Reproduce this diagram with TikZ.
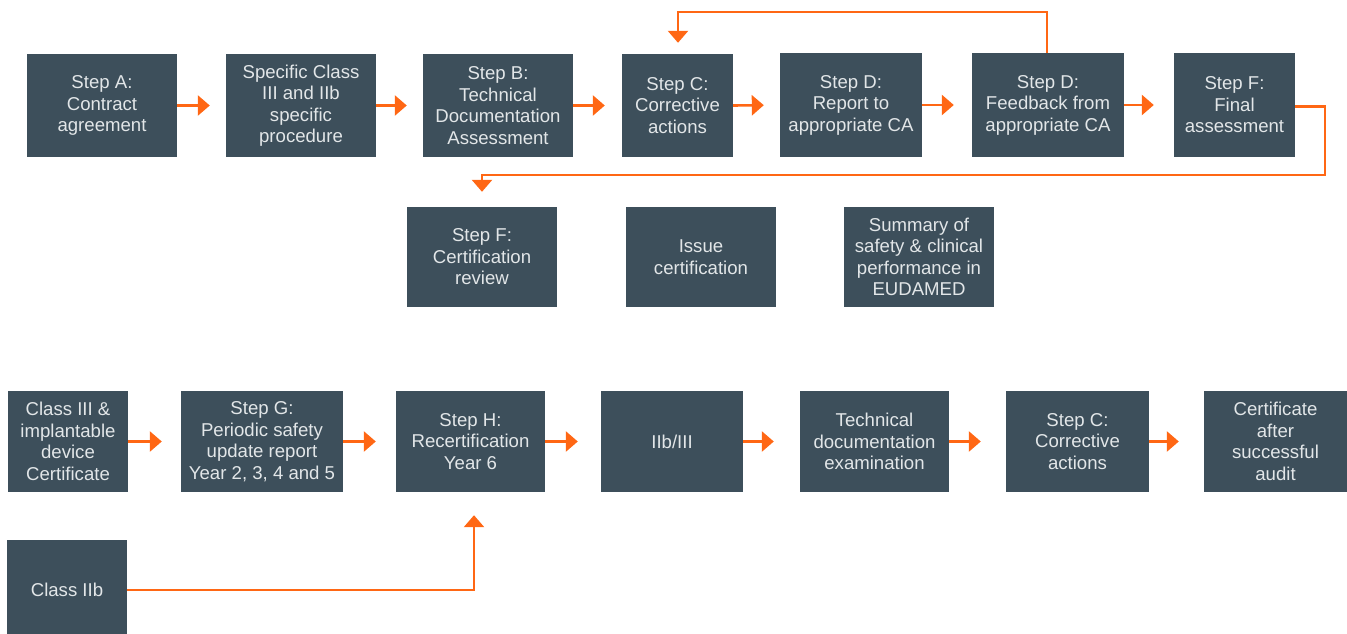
\documentclass[tikz,border=0pt]{standalone}
\usepackage{fontspec}
\setmainfont{Liberation Sans}
\usetikzlibrary{arrows.meta}
\definecolor{boxcol}{RGB}{61,79,91}
\definecolor{txtcol}{RGB}{226,230,232}
\definecolor{orng}{RGB}{255,103,20}
\tikzset{
  box/.style={fill=boxcol, text=txtcol, inner sep=0pt, align=center,
    font=\fontsize{18.6}{21.5}\selectfont},
  arr/.style={draw=orng, line width=2.6pt, -{Triangle[length=12pt,width=20pt]}},
  ln/.style={draw=orng, line width=2.6pt}
}
\begin{document}
\begin{tikzpicture}[x=1pt,y=-1pt]
\useasboundingbox (0,0) rectangle (1347,634);
% top row
\node[box, minimum width=150, minimum height=103] (A) at (102,105.5) {Step A:\\Contract\\agreement};
\node[box, minimum width=150, minimum height=103] (S) at (301,105.5) {Specific Class\\III and IIb\\specific\\procedure};
\node[box, minimum width=150, minimum height=103] (B) at (498,105.5) {Step B:\\Technical\\Documentation\\Assessment};
\node[box, minimum width=111, minimum height=103] (C) at (677.5,105.5) {Step C:\\Corrective\\actions};
\node[box, minimum width=142, minimum height=104] (DR) at (851,105) {Step D:\\Report to\\appropriate CA};
\node[box, minimum width=152, minimum height=104] (DF) at (1048,105) {Step D:\\Feedback from\\appropriate CA};
\node[box, minimum width=121, minimum height=103] (F) at (1234.5,105) {Step F:\\Final\\assessment};
% second row
\node[box, minimum width=150, minimum height=100] (FC) at (482,257) {Step F:\\Certification\\review};
\node[box, minimum width=150, minimum height=100] (IC) at (701,257) {Issue\\certification};
\node[box, minimum width=150, minimum height=100] (SUM) at (919,257) {Summary of\\safety \& clinical\\performance in\\EUDAMED};
% third row
\node[box, minimum width=120, minimum height=101] (C3) at (68,441.5) {Class III \&\\implantable\\device\\Certificate};
\node[box, minimum width=162, minimum height=101] (G) at (262,441.5) {Step G:\\Periodic safety\\update report\\Year 2, 3, 4 and 5};
\node[box, minimum width=149, minimum height=101] (H) at (470.5,441.5) {Step H:\\Recertification\\Year 6};
\node[box, minimum width=142, minimum height=101] (IIB3) at (672,441.5) {IIb/III};
\node[box, minimum width=149, minimum height=101] (TD) at (874.5,441.5) {Technical\\documentation\\examination};
\node[box, minimum width=143, minimum height=101] (SC) at (1077.5,441.5) {Step C:\\Corrective\\actions};
\node[box, minimum width=143, minimum height=101] (CERT) at (1275.5,441.5) {Certificate\\after\\successful\\audit};
\node[box, minimum width=120, minimum height=100] (IIB) at (67,590) {Class IIb};
% top row arrows
\draw[arr, shorten >=16pt] (A.east) -- (S.west);
\draw[arr, shorten >=16pt] (S.east) -- (B.west);
\draw[arr, shorten >=17pt] (B.east) -- (C.west);
\draw[arr, shorten >=16pt] (C.east) -- (DR.west);
\draw[arr, shorten >=18pt] (DR.east) -- (DF.west);
\draw[arr, shorten >=20pt] (DF.east) -- (F.west);
% loop back to C
\coordinate (lt) at (1047,12);
\draw[arr, shorten >=11pt] ([xshift=-1pt]DF.north) -- (lt) -| ([xshift=0.5pt]C.north);
% return to certification review
\coordinate (rr) at (1325,175);
\draw[arr, shorten >=15pt] ([yshift=-1.5pt]F.east) -| (rr) -| (FC.north);
% bottom row arrows
\draw[arr, shorten >=19pt] (C3.east) -- (G.west);
\draw[arr, shorten >=20pt] (G.east) -- (H.west);
\draw[arr, shorten >=23pt] (H.east) -- (IIB3.west);
\draw[arr, shorten >=26pt] (IIB3.east) -- (TD.west);
\draw[arr, shorten >=25pt] (TD.east) -- (SC.west);
\draw[arr, shorten >=25pt] (SC.east) -- (CERT.west);
% class IIb to H
\draw[arr, shorten >=23pt] (IIB.east) -| ([xshift=3.5pt]H.south);
\end{tikzpicture}
\end{document}
